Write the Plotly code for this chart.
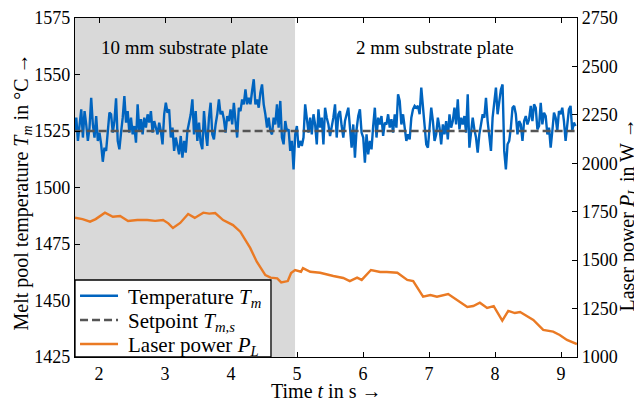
import numpy as np
import plotly.graph_objects as go

# ---------------- data ----------------
temperature = [
    1525.0, 1530.9, 1520.6, 1529.4, 1534.6, 1522.1, 1533.8, 1527.9, 1520.6, 1526.5,
    1539.7, 1527.9, 1522.1, 1531.6, 1520.6, 1524.3, 1519.1, 1511.4, 1517.6, 1516.2,
    1523.5, 1533.1, 1532.4, 1524.3, 1529.4, 1539.5, 1520.6, 1516.9, 1524.3, 1530.9,
    1540.5, 1528.7, 1533.8, 1524.3, 1530.9, 1523.5, 1527.2, 1519.8, 1536.8, 1525.0,
    1530.2, 1523.5, 1530.9, 1526.5, 1532.4, 1528.7, 1533.8, 1524.3, 1529.4, 1526.5,
    1523.5, 1528.7, 1525.0, 1519.1, 1532.4, 1537.5, 1533.1, 1534.6, 1522.1, 1526.5,
    1516.2, 1522.1, 1518.4, 1514.7, 1522.8, 1513.2, 1520.6, 1515.4, 1525.0, 1528.7,
    1532.4, 1539.0, 1523.5, 1533.8, 1520.6, 1528.7,
    1519.8, 1516.9, 1533.8, 1524.3, 1518.4, 1530.9, 1537.5, 1523.5, 1521.3, 1527.9,
    1532.4, 1539.0, 1532.4, 1533.8, 1530.2, 1524.3, 1531.6, 1529.4, 1534.6, 1527.9,
    1537.5, 1529.4, 1522.1, 1535.3, 1533.8, 1539.0, 1536.8, 1543.4, 1536.8, 1539.7,
    1536.8, 1542.7, 1547.9, 1536.8, 1539.0, 1535.3, 1542.0, 1545.6, 1536.8, 1532.4,
    1526.5, 1530.9, 1525.0, 1523.5, 1530.9, 1527.9, 1536.8, 1526.5, 1538.3, 1522.1,
    1519.1, 1529.4, 1525.0, 1525.7, 1516.2, 1520.6, 1508.0, 1523.5, 1527.2, 1517.6,
    1520.6, 1518.4, 1522.1, 1536.8, 1529.4, 1524.3, 1530.9, 1523.5, 1532.4, 1527.9,
    1519.1, 1534.6, 1526.5, 1530.9, 1519.1, 1535.3,
    1530.9, 1527.9, 1522.8, 1526.5, 1530.9, 1536.8, 1522.1, 1532.4, 1533.8, 1527.2,
    1522.1, 1529.4, 1532.4, 1535.3, 1526.5, 1517.6, 1527.9, 1513.2, 1525.7, 1531.6,
    1534.6, 1524.3, 1522.1, 1511.0, 1523.5, 1514.7, 1520.6, 1516.9, 1527.2, 1535.3,
    1522.1, 1530.9, 1527.9, 1531.6, 1522.8, 1528.7, 1527.9, 1532.4, 1526.5, 1530.2,
    1524.3, 1532.4, 1526.5, 1541.2, 1538.3, 1527.9, 1532.4, 1526.5, 1520.6, 1523.5,
    1521.3, 1530.9, 1534.6, 1536.1, 1535.3, 1536.1, 1532.4, 1544.2, 1536.8, 1529.4,
    1519.1, 1517.6, 1526.5, 1535.3, 1529.4, 1520.6, 1523.5, 1530.9, 1526.5, 1519.1,
    1527.9, 1523.5, 1529.4, 1521.3, 1532.4, 1526.5,
    1529.4, 1535.3, 1527.9, 1539.0, 1525.7, 1530.9, 1527.9, 1531.6, 1524.3, 1541.2,
    1517.6, 1523.5, 1530.9, 1525.7, 1522.1, 1515.4, 1523.5, 1527.9, 1532.4, 1530.9,
    1539.7, 1529.4, 1523.5, 1516.2, 1530.9, 1537.5, 1544.2, 1532.4, 1538.3, 1543.4,
    1545.6, 1516.2, 1508.0, 1519.1, 1520.6, 1526.5, 1535.3, 1536.1, 1532.4, 1523.5,
    1529.4, 1527.9, 1520.6, 1529.4, 1531.6, 1527.9, 1530.2, 1536.1, 1529.4, 1536.8,
    1535.3, 1525.7, 1527.2, 1537.5, 1527.9, 1533.1, 1531.6, 1523.5, 1526.5, 1517.6,
    1525.0, 1533.1, 1530.9, 1525.0, 1533.8, 1532.4, 1535.3, 1529.4, 1520.6, 1528.7,
    1534.6, 1536.1, 1525.0, 1528.7, 1527.2,
]
temp_time_start = 1.630
temp_time_end = 9.22
temp_time = np.linspace(temp_time_start, temp_time_end, len(temperature))

setpoint_time = [1.63, 9.242]
setpoint = [1525, 1525]

power_time = [1.636, 1.75, 1.864, 1.95, 2.09, 2.21, 2.32, 2.44, 2.58, 2.73, 2.85, 2.97,
              3.05, 3.12, 3.23, 3.35, 3.45, 3.58, 3.67, 3.76, 3.88, 4.03, 4.14, 4.29,
              4.39, 4.52, 4.60, 4.70, 4.76, 4.86, 4.91, 4.97, 5.06, 5.09, 5.20, 5.35,
              5.55, 5.70, 5.80, 5.91, 5.98, 6.12, 6.26, 6.36, 6.52, 6.67, 6.76, 6.91,
              7.02, 7.12, 7.29, 7.42, 7.58, 7.67, 7.77, 7.88, 7.98, 8.11, 8.20, 8.30,
              8.38, 8.58, 8.73, 8.88, 8.98, 9.09, 9.24]
power = [1719, 1712, 1699, 1712, 1745, 1724, 1728, 1702, 1707, 1707, 1703, 1707,
         1690, 1666, 1692, 1738, 1718, 1745, 1740, 1743, 1707, 1681, 1647, 1563,
         1492, 1423, 1410, 1406, 1385, 1392, 1434, 1449, 1440, 1459, 1440, 1435,
         1418, 1408, 1392, 1410, 1398, 1449, 1439, 1439, 1435, 1398, 1392, 1311,
         1320, 1311, 1325, 1294, 1258, 1263, 1280, 1253, 1263, 1188, 1238, 1227,
         1232, 1191, 1140, 1131, 1114, 1088, 1067]

series_names = ["Temperature <i>T</i><sub><i>m</i></sub>",
                "Setpoint <i>T</i><sub><i>m,s</i></sub>",
                "Laser power <i>P</i><sub><i>L</i></sub>"]

x_range = [1.636, 9.242]
left_range = [1425, 1575]
right_range = [1000, 2750]
thick_plate_end = 4.97
region_labels = ["10 mm substrate plate", "2 mm substrate plate"]
region_label_x = [3.30, 7.09]
region_label_y = 1562

# ---------------- style ----------------
FONT = "Liberation Serif"
BLUE = "#0064bf"
ORANGE = "#ea7a24"
GRAY = "#555555"
TICK_SIZE = 18
LABEL_SIZE = 19
TITLE_SIZE = 20
LEGEND_SIZE = 21
DASH = "8px,4px"
colors = [BLUE, GRAY, ORANGE]
dashes = ["solid", DASH, "solid"]

fig = go.Figure()
fig.add_trace(go.Scatter(x=temp_time, y=temperature, mode="lines",
                         line=dict(color=BLUE, width=2.4), name=series_names[0]))
fig.add_trace(go.Scatter(x=setpoint_time, y=setpoint, mode="lines",
                         line=dict(color=GRAY, width=2.4, dash=DASH), name=series_names[1]))
fig.add_trace(go.Scatter(x=power_time, y=power, mode="lines", yaxis="y2",
                         line=dict(color=ORANGE, width=2.4), name=series_names[2]))

fig.add_shape(type="rect", xref="x", yref="paper", x0=x_range[0], x1=thick_plate_end,
              y0=0, y1=1, fillcolor="#d9d9d9", line=dict(width=0), layer="below")

for txt, xx in zip(region_labels, region_label_x):
    fig.add_annotation(x=xx, y=region_label_y, xref="x", yref="y", text=txt,
                       showarrow=False, font=dict(family=FONT, size=LABEL_SIZE, color="black"))

# ---- legend box (drawn in paper coordinates, bottom-left corner of the axes) ----
LEG_W, LEG_H = 0.3904, 0.2271
fig.add_shape(type="rect", xref="paper", yref="paper", x0=0, x1=LEG_W, y0=0, y1=LEG_H,
              fillcolor="white", line=dict(color="black", width=1.3), layer="above")
row_y = [0.1808, 0.1091, 0.0383]
for name, col, dsh, ry in zip(series_names, colors, dashes, row_y):
    fig.add_shape(type="line", xref="paper", yref="paper", x0=0.0100, x1=0.0857,
                  y0=ry, y1=ry, line=dict(color=col, width=2.4, dash=dsh), layer="above")
    fig.add_annotation(xref="paper", yref="paper", x=0.1010, y=ry, yshift=-2,
                       xanchor="left", yanchor="middle", showarrow=False, text=name,
                       font=dict(family=FONT, size=LEGEND_SIZE, color="black"))

# ---- axis titles ----
fig.add_annotation(xref="paper", yref="paper", x=0, y=0.5, xshift=-53, yshift=-5,
                   xanchor="center", yanchor="middle", textangle=-90, showarrow=False,
                   text="Melt pool temperature <i>T</i><sub><i>m</i></sub> in °C →",
                   font=dict(family=FONT, size=TITLE_SIZE, color="black"))
fig.add_annotation(xref="paper", yref="paper", x=1, y=0.5, xshift=51, yshift=-28,
                   xanchor="center", yanchor="middle", textangle=-90, showarrow=False,
                   text="Laser power <i>P</i><sub><i>L</i></sub> in W →",
                   font=dict(family=FONT, size=TITLE_SIZE, color="black"))
fig.add_annotation(xref="paper", yref="paper", x=0.5, y=0, yshift=-34,
                   xanchor="center", yanchor="middle", showarrow=False,
                   text="Time <i>t</i> in s →",
                   font=dict(family=FONT, size=TITLE_SIZE, color="black"))

axis_common = dict(showgrid=False, zeroline=False, showline=True, linecolor="black",
                   linewidth=1.3, ticks="inside", ticklen=5, tickcolor="black",
                   tickwidth=1.2, automargin=False,
                   tickfont=dict(family=FONT, size=TICK_SIZE, color="black"))

# page body has an 8 px default margin, so the figure is 8 px smaller
fig.update_layout(
    width=634, height=393,
    margin=dict(l=67, r=65, t=10, b=44),
    paper_bgcolor="white", plot_bgcolor="white",
    font=dict(family=FONT, size=LABEL_SIZE, color="black"),
    showlegend=False,
    xaxis=dict(range=x_range, dtick=1, tick0=0, mirror="ticks", **axis_common),
    yaxis=dict(range=left_range, dtick=25, tick0=1425, mirror=True, **axis_common),
    yaxis2=dict(range=right_range, dtick=250, tick0=1000, overlaying="y", side="right",
                **axis_common),
)

fig.write_html("out.html")
